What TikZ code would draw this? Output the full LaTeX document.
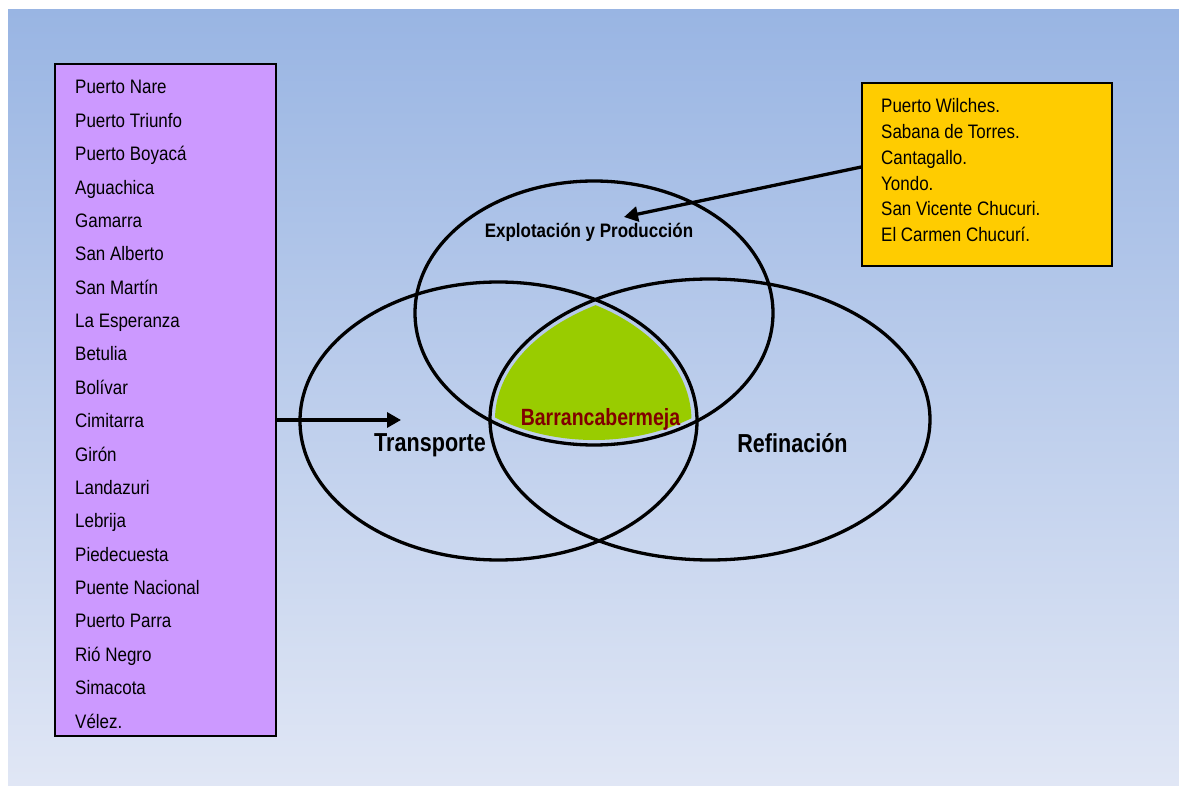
\documentclass[tikz,border=0pt]{standalone}
\usepackage{fontspec}
\setmainfont{Liberation Sans}[FakeStretch=0.87]
\newfontfamily\labfont{Liberation Sans}[FakeStretch=0.83]
\usetikzlibrary{arrows.meta}
\definecolor{bgtop}{RGB}{153,181,227}
\definecolor{bgbot}{RGB}{225,231,245}
\definecolor{lila}{RGB}{204,153,255}
\definecolor{amarillo}{RGB}{255,204,0}
\definecolor{verde}{RGB}{153,204,0}
\definecolor{rojo}{RGB}{128,0,0}
\tikzset{
  ring/.style={draw=black, line width=3.3pt},
  listbox/.style={draw=black, line width=1.5pt, inner sep=0pt},
  item/.style={anchor=base west, inner sep=0pt, font=\fontsize{19.5}{22}\selectfont},
  biglab/.style={anchor=base, inner sep=0pt, font=\labfont\bfseries\fontsize{26}{30}\selectfont},
  arr/.style={line width=3.3pt, -{Triangle[length=14pt,width=15pt]}}
}
\begin{document}
\begin{tikzpicture}[x=1pt,y=-1pt]
\useasboundingbox (0,0) rectangle (1179,786);
\fill[white] (-5,-5) rectangle (1190,795);
\shade[top color=bgtop, bottom color=bgbot] (8,10) rectangle (1190,795);
% green intersection
\begin{scope}
  \clip (594,313) ellipse [x radius=174pt, y radius=127pt];
  \clip (498.5,421) ellipse [x radius=193pt, y radius=134pt];
  \fill[verde] (710,419.5) ellipse [x radius=215pt, y radius=135pt];
\end{scope}
% ellipses
\draw[ring] (594,313) ellipse [x radius=179pt, y radius=132pt];
\draw[ring] (498.5,421) ellipse [x radius=198.5pt, y radius=139pt];
\draw[ring] (710,419.5) ellipse [x radius=220pt, y radius=140.5pt];
% labels
\node[anchor=base, inner sep=0pt, font=\bfseries\fontsize{19.5}{22}\selectfont] (expl) at (589,238) {Explotación y Producción};
\node[biglab] (trans) at (430,452) {Transporte};
\node[biglab] (refi) at (792.5,453) {Refinación};
\node[anchor=base, inner sep=0pt, text=rojo, font=\labfont\bfseries\fontsize{23.5}{27}\selectfont] (barr) at (600.5,425) {Barrancabermeja};
% purple list
\node[listbox, fill=lila, minimum width=221pt, minimum height=672pt] (list) at (165.5,400) {};
\foreach \t [count=\i from 0] in {Puerto Nare, Puerto Triunfo, Puerto Boyacá, Aguachica, Gamarra, San Alberto, San Martín, La Esperanza, Betulia, Bolívar, Cimitarra, Girón, Landazuri, Lebrija, Piedecuesta, Puente Nacional, Puerto Parra, Rió Negro, Simacota, Vélez.}
  \node[item] (l\i) at (75,94+33.37*\i) {\t};
% yellow list
\node[listbox, fill=amarillo, minimum width=250pt, minimum height=183pt] (yel) at (987,174.5) {};
\foreach \t [count=\i from 0] in {Puerto Wilches., Sabana de Torres., Cantagallo., Yondo., San Vicente Chucuri., El Carmen Chucurí.}
  \node[item] (y\i) at (881,112.7+25.8*\i) {\t};
% arrows
\coordinate (tTip) at (401,420);
\coordinate (eTip) at (624,217);
\coordinate (eStart) at (862,167);
\draw[arr] (list.east |- tTip) -- (tTip);
\draw[arr] (yel.west |- eStart) -- (eTip);
\end{tikzpicture}
\end{document}
